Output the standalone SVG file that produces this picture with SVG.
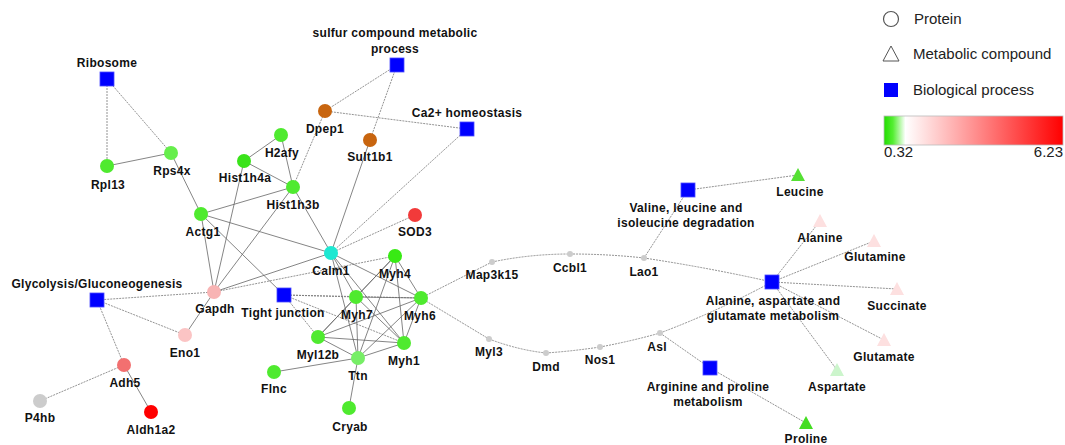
<svg xmlns="http://www.w3.org/2000/svg" width="1065" height="445" viewBox="0 0 1065 445">
<defs>
<linearGradient id="cb" x1="0" y1="0" x2="1" y2="0">
<stop offset="0" stop-color="#22dd00"/>
<stop offset="0.05" stop-color="#55ee33"/>
<stop offset="0.12" stop-color="#ffffff"/>
<stop offset="1" stop-color="#ff0000"/>
</linearGradient>
</defs>
<style>
text{font-family:"Liberation Sans",Arial,sans-serif;}
.l{font-size:12px;font-weight:bold;fill:#111;text-anchor:middle;letter-spacing:0.3px;}
.lg{font-size:15px;fill:#222;}
.e{stroke:#666;stroke-width:0.8;fill:none;}
.d{stroke:#777;stroke-width:0.8;fill:none;stroke-dasharray:2,1;}
.sq{fill:#0000ff;stroke:#4a4aff;stroke-width:0.8;}
.g{fill:#4fea2f;}
.gy{fill:#cccccc;}
</style>
<rect width="1065" height="445" fill="#ffffff"/>
<g id="connectors">
<line class="d" x1="107" y1="79" x2="107" y2="166"/>
<line class="d" x1="107" y1="79" x2="171" y2="153"/>
<line class="e" x1="107" y1="166" x2="171" y2="153"/>
<line class="e" x1="171" y1="153" x2="201" y2="214"/>
<line class="e" x1="201" y1="214" x2="293" y2="187"/>
<line class="e" x1="201" y1="214" x2="214" y2="292"/>
<line class="e" x1="201" y1="214" x2="331" y2="253"/>
<line class="e" x1="201" y1="214" x2="284" y2="295"/>
<line class="e" x1="244" y1="161" x2="281" y2="135"/>
<line class="e" x1="244" y1="161" x2="293" y2="187"/>
<line class="e" x1="244" y1="161" x2="214" y2="292"/>
<line class="e" x1="281" y1="135" x2="293" y2="187"/>
<line class="d" x1="325" y1="111" x2="293" y2="187"/>
<line class="e" x1="293" y1="187" x2="331" y2="253"/>
<line class="e" x1="293" y1="187" x2="214" y2="292"/>
<line class="e" x1="214" y1="292" x2="331" y2="253"/>
<line class="d" x1="214" y1="292" x2="395" y2="256"/>
<line class="e" x1="214" y1="292" x2="185" y2="335"/>
<line class="d" x1="214" y1="292" x2="97" y2="300"/>
<line class="d" x1="97" y1="300" x2="185" y2="335"/>
<line class="d" x1="97" y1="300" x2="124" y2="365"/>
<line class="d" x1="124" y1="365" x2="40" y2="401"/>
<line class="e" x1="124" y1="365" x2="151" y2="412"/>
<line class="d" x1="397" y1="65" x2="325" y2="111"/>
<line class="d" x1="397" y1="65" x2="370" y2="140"/>
<line class="d" x1="325" y1="111" x2="467" y2="129"/>
<line class="e" x1="370" y1="140" x2="331" y2="253"/>
<line class="d" x1="467" y1="129" x2="331" y2="253"/>
<line class="d" x1="331" y1="253" x2="415" y2="215"/>
<line class="e" x1="331" y1="253" x2="421" y2="298"/>
<line class="e" x1="331" y1="253" x2="356" y2="297"/>
<line class="e" x1="331" y1="253" x2="358" y2="358"/>
<line class="e" x1="331" y1="253" x2="404" y2="343"/>
<line class="d" x1="284" y1="295" x2="356" y2="297"/>
<line class="d" x1="284" y1="295" x2="421" y2="298"/>
<line class="d" x1="284" y1="295" x2="318" y2="337"/>
<line class="d" x1="284" y1="295" x2="404" y2="343"/>
<line class="e" x1="395" y1="256" x2="356" y2="297"/>
<line class="e" x1="395" y1="256" x2="421" y2="298"/>
<line class="e" x1="395" y1="256" x2="404" y2="343"/>
<line class="e" x1="395" y1="256" x2="358" y2="358"/>
<line class="e" x1="395" y1="256" x2="318" y2="337"/>
<line class="e" x1="356" y1="297" x2="421" y2="298"/>
<line class="e" x1="356" y1="297" x2="318" y2="337"/>
<line class="e" x1="356" y1="297" x2="404" y2="343"/>
<line class="e" x1="356" y1="297" x2="358" y2="358"/>
<line class="e" x1="421" y1="298" x2="318" y2="337"/>
<line class="e" x1="421" y1="298" x2="404" y2="343"/>
<line class="e" x1="421" y1="298" x2="358" y2="358"/>
<line class="e" x1="318" y1="337" x2="404" y2="343"/>
<line class="e" x1="318" y1="337" x2="358" y2="358"/>
<line class="e" x1="404" y1="343" x2="358" y2="358"/>
<line class="e" x1="358" y1="358" x2="274" y2="372"/>
<line class="e" x1="358" y1="358" x2="349" y2="408"/>
<line class="d" x1="421" y1="298" x2="492" y2="262"/>
<line class="d" x1="421" y1="298" x2="489" y2="339"/>
<path class="d" d="M492,262 Q530,254 570,254"/>
<path class="d" d="M570,254 Q608,254 644,258"/>
<path class="d" d="M644,258 Q710,268 772,282"/>
<line class="d" x1="644" y1="258" x2="688" y2="190"/>
<line class="d" x1="688" y1="190" x2="798" y2="175"/>
<path class="d" d="M489,339 Q518,350 546,353"/>
<path class="d" d="M546,353 Q574,351 600,347"/>
<path class="d" d="M600,347 Q632,341 660,333"/>
<path class="d" d="M660,333 Q716,312 772,282"/>
<line class="d" x1="660" y1="333" x2="710" y2="368"/>
<line class="d" x1="710" y1="368" x2="806" y2="423"/>
<line class="d" x1="772" y1="282" x2="820" y2="221"/>
<line class="d" x1="772" y1="282" x2="874" y2="241"/>
<line class="d" x1="772" y1="282" x2="897" y2="289"/>
<line class="d" x1="772" y1="282" x2="884" y2="340"/>
<line class="d" x1="772" y1="282" x2="837" y2="370"/>
</g>
<g id="n-ribosome"><rect class="sq" x="100" y="72" width="14" height="14"/><text class="l" x="107" y="67">Ribosome</text></g>
<g id="n-rpl13"><circle class="g" cx="107" cy="166" r="7"/><text class="l" x="108" y="189">Rpl13</text></g>
<g id="n-rps4x"><circle cx="171" cy="153" r="7" fill="#66ee4c"/><text class="l" x="172" y="175">Rps4x</text></g>
<g id="n-hist1h4a"><circle cx="244" cy="161" r="7" fill="#3ae31a"/><text class="l" x="245" y="182">Hist1h4a</text></g>
<g id="n-h2afy"><circle class="g" cx="281" cy="135" r="7"/><text class="l" x="282" y="157">H2afy</text></g>
<g id="n-hist1h3b"><circle class="g" cx="293" cy="187" r="7"/><text class="l" x="293" y="209">Hist1h3b</text></g>
<g id="n-actg1"><circle class="g" cx="201" cy="214" r="7"/><text class="l" x="203" y="236">Actg1</text></g>
<g id="n-gapdh"><circle cx="214" cy="292" r="7" fill="#f8b4b4"/><text class="l" x="215" y="313">Gapdh</text></g>
<g id="n-glycolysis"><rect class="sq" x="90" y="293" width="14" height="14"/><text class="l" x="97" y="288">Glycolysis/Gluconeogenesis</text></g>
<g id="n-eno1"><circle cx="185" cy="335" r="7" fill="#fbc4c4"/><text class="l" x="185" y="357">Eno1</text></g>
<g id="n-adh5"><circle cx="124" cy="365" r="7" fill="#f27070"/><text class="l" x="125" y="387">Adh5</text></g>
<g id="n-p4hb"><circle class="gy" cx="40" cy="401" r="7"/><text class="l" x="40" y="422">P4hb</text></g>
<g id="n-aldh1a2"><circle cx="151" cy="412" r="7" fill="#ff0000"/><text class="l" x="151" y="434">Aldh1a2</text></g>
<g id="n-dpep1"><circle cx="325" cy="111" r="7" fill="#c8650f"/><text class="l" x="325" y="133">Dpep1</text></g>
<g id="n-sult1b1"><circle cx="370" cy="140" r="7" fill="#c8650f"/><text class="l" x="370" y="161">Sult1b1</text></g>
<g id="n-sulfur"><rect class="sq" x="390" y="58" width="14" height="14"/><text class="l" x="395" y="37">sulfur compound metabolic</text><text class="l" x="395" y="53">process</text></g>
<g id="n-ca2"><rect class="sq" x="460" y="122" width="14" height="14"/><text class="l" x="467" y="117">Ca2+ homeostasis</text></g>
<g id="n-sod3"><circle cx="415" cy="215" r="7" fill="#f23a3a"/><text class="l" x="415" y="236">SOD3</text></g>
<g id="n-calm1"><circle cx="331" cy="253" r="7" fill="#1ee8d2"/><text class="l" x="331" y="275">Calm1</text></g>
<g id="n-myh4"><circle cx="395" cy="256" r="7" fill="#38ea14"/><text class="l" x="395" y="278">Myh4</text></g>
<g id="n-tightjunction"><rect class="sq" x="277" y="288" width="14" height="14"/><text class="l" x="283" y="317">Tight junction</text></g>
<g id="n-myh7"><circle class="g" cx="356" cy="297" r="7"/><text class="l" x="357" y="319">Myh7</text></g>
<g id="n-myh6"><circle class="g" cx="421" cy="298" r="7"/><text class="l" x="420" y="320">Myh6</text></g>
<g id="n-myl12b"><circle class="g" cx="318" cy="337" r="7"/><text class="l" x="318" y="359">Myl12b</text></g>
<g id="n-myh1"><circle class="g" cx="404" cy="343" r="7"/><text class="l" x="404" y="365">Myh1</text></g>
<g id="n-ttn"><circle cx="358" cy="358" r="7" fill="#77ee66"/><text class="l" x="358" y="380">Ttn</text></g>
<g id="n-flnc"><circle class="g" cx="274" cy="372" r="7"/><text class="l" x="274" y="393">Flnc</text></g>
<g id="n-cryab"><circle class="g" cx="349" cy="408" r="7"/><text class="l" x="350" y="431">Cryab</text></g>
<g id="n-map3k15"><circle class="gy" cx="492" cy="262" r="3"/><text class="l" x="492" y="279">Map3k15</text></g>
<g id="n-ccbl1"><circle class="gy" cx="570" cy="254" r="3"/><text class="l" x="570" y="272">Ccbl1</text></g>
<g id="n-lao1"><circle class="gy" cx="644" cy="258" r="3"/><text class="l" x="644" y="276">Lao1</text></g>
<g id="n-valine"><rect class="sq" x="681" y="183" width="14" height="14"/><text class="l" x="686" y="212">Valine, leucine and</text><text class="l" x="686" y="227">isoleucine degradation</text></g>
<g id="n-leucine"><polygon points="798,168 791,181 805,181" fill="#55e033"/><text class="l" x="800" y="196">Leucine</text></g>
<g id="n-alasq"><rect class="sq" x="765" y="275" width="14" height="14"/><text class="l" x="773" y="305">Alanine, aspartate and</text><text class="l" x="773" y="320">glutamate metabolism</text></g>
<g id="n-alanine"><polygon points="820,214 813,227 827,227" fill="#fde0e0"/><text class="l" x="820" y="242">Alanine</text></g>
<g id="n-glutamine"><polygon points="874,234 867,247 881,247" fill="#fde0e0"/><text class="l" x="875" y="261">Glutamine</text></g>
<g id="n-succinate"><polygon points="897,282 890,295 904,295" fill="#fde0e0"/><text class="l" x="897" y="310">Succinate</text></g>
<g id="n-glutamate"><polygon points="884,333 877,346 891,346" fill="#fde0e0"/><text class="l" x="884" y="361">Glutamate</text></g>
<g id="n-aspartate"><polygon points="837,363 830,376 844,376" fill="#ccf5cc"/><text class="l" x="837" y="391">Aspartate</text></g>
<g id="n-proline"><polygon points="806,416 799,429 813,429" fill="#44dd22"/><text class="l" x="806" y="443">Proline</text></g>
<g id="n-arginine"><rect class="sq" x="703" y="361" width="14" height="14"/><text class="l" x="708" y="391">Arginine and proline</text><text class="l" x="708" y="406">metabolism</text></g>
<g id="n-asl"><circle class="gy" cx="660" cy="333" r="3"/><text class="l" x="657" y="351">Asl</text></g>
<g id="n-nos1"><circle class="gy" cx="600" cy="347" r="3"/><text class="l" x="600" y="364">Nos1</text></g>
<g id="n-dmd"><circle class="gy" cx="546" cy="353" r="3"/><text class="l" x="546" y="371">Dmd</text></g>
<g id="n-myl3"><circle class="gy" cx="489" cy="339" r="3"/><text class="l" x="489" y="356">Myl3</text></g>
<g id="legend">
<circle cx="891" cy="19" r="7.5" fill="none" stroke="#555" stroke-width="1.2"/>
<text class="lg" x="914" y="24">Protein</text>
<polygon points="891,46 883,61 899,61" fill="none" stroke="#555" stroke-width="1"/>
<text class="lg" x="913" y="59">Metabolic compound</text>
<rect x="884" y="83" width="14" height="14" fill="#0000ff"/>
<text class="lg" x="913" y="95">Biological process</text>
<rect x="884" y="116" width="179" height="29" fill="url(#cb)" stroke="#bbb" stroke-width="0.8"/>
<text class="lg" x="884" y="157">0.32</text>
<text class="lg" x="1063" y="157" text-anchor="end">6.23</text>
</g>
</svg>
